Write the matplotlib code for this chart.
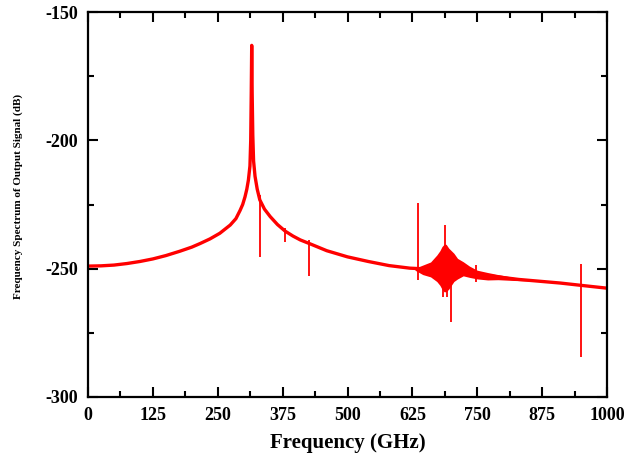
import matplotlib
matplotlib.use("Agg")
import matplotlib.pyplot as plt
from matplotlib.ticker import MultipleLocator

# main spectrum curve (GHz, dB)
freq = [0, 25, 50, 75, 100, 125, 150, 177, 200, 216, 235, 254, 274, 285, 293, 298, 302.5,
        306, 309, 312, 313.5, 314.5, 315.4, 316.3, 317.5, 319, 321.8, 326, 331, 340, 351,
        365, 380, 395, 409, 430, 460, 500, 540, 580, 620, 660, 700, 750, 790, 830, 870,
        910, 950, 1000]
level = [-249, -248.9, -248.6, -248, -247.2, -246.2, -244.9, -243.2, -241.6, -240.2, -238.4, -236.2, -233, -230.5, -227.3, -225, -222,
         -219, -215.5, -210, -200, -182, -163, -182, -198, -208, -214, -219, -223.2, -226.8, -229.7,
         -232.8, -235.4, -237.3, -238.8, -240.5, -243, -245.4, -247.2, -248.8, -249.8, -250.2, -251, -252.3, -253.2, -254.2, -254.9,
         -255.6, -256.5, -257.6]

# ringing band around 690 GHz (upper / lower envelope)
band_f = [630, 645, 660, 672, 678, 682, 686, 690, 695, 700, 705, 712, 723, 735, 750, 770, 790, 820, 850]
band_hi = [-249.8, -248.6, -247.4, -244.7, -243, -241.4, -240.5, -240.5, -242, -243, -244, -246, -247.3, -249, -250.6, -251.5, -252.3, -253.4, -254.3]
band_lo = [-250.6, -252.3, -253.2, -255, -256.5, -258, -259, -259, -258, -256.5, -255, -254, -252.8, -253.4, -254, -254.4, -254.3, -254.6, -254.8]

# narrow spurs
spur_f = [331, 379, 426, 635, 684, 688, 691, 699, 748, 950]
spur_top = [-221.3, -234, -239, -224.5, -252, -233, -252, -252, -248.6, -248]
spur_bot = [-245.4, -239.5, -253, -254.5, -261, -250, -261, -270.7, -255, -284.5]

red = "#ff0000"
plt.rcParams['font.family'] = ['Liberation Serif', 'DejaVu Serif']
plt.rcParams['font.weight'] = 'bold'
plt.rcParams['axes.unicode_minus'] = False

fig = plt.figure(figsize=(6.36, 4.57), dpi=100)
ax = fig.add_axes([0.1384, 0.1313, 0.816, 0.8424])

ax.plot(freq, level, color=red, lw=2.4, solid_joinstyle='round')
ax.fill_between(band_f, band_lo, band_hi, color=red, lw=0)
ax.vlines(spur_f, spur_bot, spur_top, color=red, lw=1.3)

ax.set_xlim(0, 1000)
ax.set_ylim(-300, -150)
ax.xaxis.set_major_locator(MultipleLocator(125))
ax.xaxis.set_minor_locator(MultipleLocator(62.5))
ax.yaxis.set_major_locator(MultipleLocator(50))
ax.yaxis.set_minor_locator(MultipleLocator(25))
ax.tick_params(which='both', direction='in', top=True, right=True, width=1.5, labelsize=13)
ax.tick_params(which='major', length=7, pad=7)
ax.tick_params(which='minor', length=4)
for s in ax.spines.values():
    s.set_linewidth(1.6)

ax.set_xlabel("Frequency (GHz)", fontsize=15, fontweight='bold', labelpad=7)
ax.set_ylabel("Frequency Spectrum of Output Signal (dB)", fontsize=8, fontweight='bold')
ax.yaxis.set_label_coords(-0.125, 0.52)

fig.savefig("out.png", dpi=100)
